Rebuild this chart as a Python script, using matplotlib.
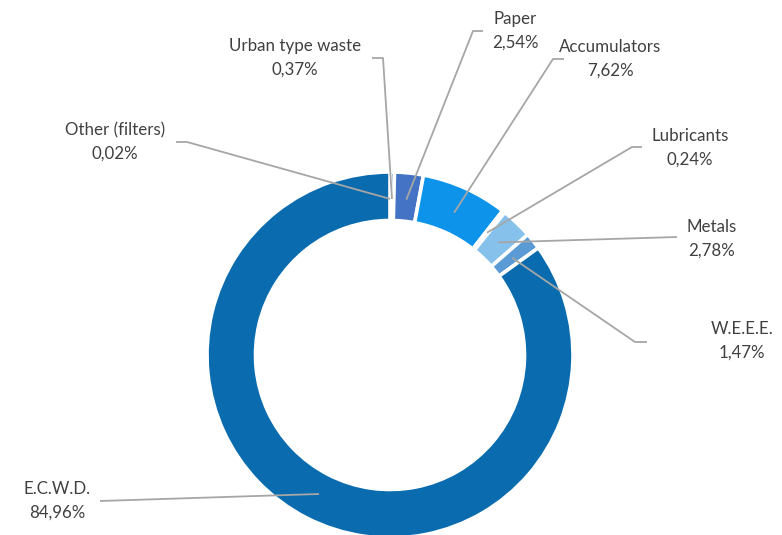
import numpy as np
import matplotlib
matplotlib.use("Agg")
import matplotlib.pyplot as plt

plt.rcParams['font.family'] = ['Lato', 'DejaVu Sans']

categories = ["Other (filters)", "Urban type waste", "Paper", "Accumulators",
              "Lubricants", "Metals", "W.E.E.E.", "E.C.W.D."]
shares = [0.02, 0.37, 2.54, 7.62, 0.24, 2.78, 1.47, 84.96]
value_labels = ["0,02%", "0,37%", "2,54%", "7,62%", "0,24%", "2,78%", "1,47%", "84,96%"]
colors = ["#2E75B6", "#1F5FA0", "#4472C4", "#0E93EB", "#9DC3E6", "#85C1EB", "#5B9BD5", "#0A6CAE"]

# label text centres and leader elbows in canvas pixels (y measured from top)
label_xy = [(115, 142), (295, 58), (515, 31), (610, 59), (690, 148), (712, 239), (742, 341), (57, 501)]
elbow_xy = [[(176, 142), (187, 142)],
            [(372, 58), (383, 58)],
            [(483, 31), (473, 31)],
            [(564, 59), (553, 59)],
            [(642, 147), (632, 147)],
            [(677, 237)],
            [(647, 342), (635, 342)],
            [(100, 501)]]

W, H = 782, 535
fig = plt.figure(figsize=(W / 100, H / 100), dpi=100)
ax = fig.add_axes([0, 0, 1, 1])

cx, cy, R = 390, H - 355, 183
wedges, _ = ax.pie(shares, colors=colors, startangle=90, counterclock=False,
                   center=(cx, cy), radius=R, frame=True,
                   wedgeprops=dict(width=R * 0.265, edgecolor='white', linewidth=2.6))
ax.set_xlim(0, W)
ax.set_ylim(0, H)
ax.set_aspect('equal')
ax.axis('off')

text_color = "#404040"
line_color = "#A6A6A6"
r_anchor = R * 0.853
for w, name, val, (tx, ty), elbow in zip(wedges, categories, value_labels, label_xy, elbow_xy):
    mid = np.deg2rad((w.theta1 + w.theta2) / 2)
    ax_x = cx + r_anchor * np.cos(mid)
    ax_y = cy + r_anchor * np.sin(mid)
    pts = [(ax_x, ax_y)] + [(x, H - y) for x, y in reversed(elbow)]
    xs, ys = zip(*pts)
    ax.plot(xs, ys, color=line_color, lw=1.3, solid_capstyle='butt', zorder=3)
    ax.text(tx, H - ty, f"{name}\n{val}", ha='center', va='center',
            fontsize=12.2, color=text_color, linespacing=1.55)

fig.savefig("out.png", dpi=100)
